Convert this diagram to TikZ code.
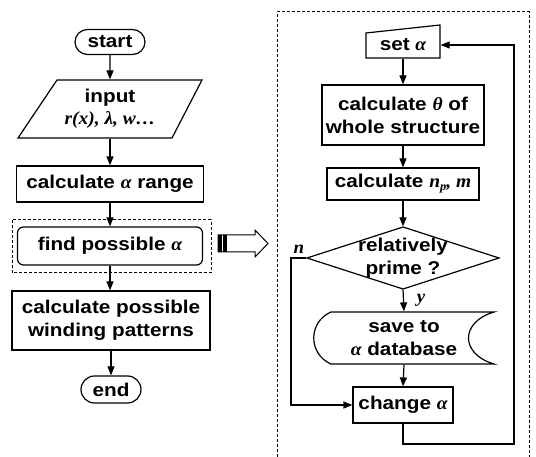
\documentclass[tikz,border=0pt]{standalone}
\usepackage{fontspec}
\setmainfont{Liberation Sans}[FakeStretch=1.12]
\newfontfamily\gkf{Liberation Serif}[FakeStretch=1.05]
\newcommand\gk[1]{{\gkf\bfseries\itshape #1}}
\usetikzlibrary{arrows.meta,shapes.misc,calc}
\tikzset{
  base/.style={font=\bfseries\fontsize{18.5}{23}\selectfont, align=center, inner sep=0pt, line width=1.2pt},
  box/.style={base, draw, rectangle},
  ghost/.style={base, rectangle},
  term/.style={base, draw, rounded rectangle},
  arr/.style={line width=1.2pt, -{Triangle[length=9pt,width=7pt]}},
  ln/.style={line width=1.2pt},
  dsh/.style={line width=1pt, dash pattern=on 3pt off 2pt},
  lab/.style={font=\gkf\bfseries\itshape\fontsize{18}{20}\selectfont, inner sep=0pt},
}
\begin{document}
\begin{tikzpicture}[x=1pt,y=-1pt]
\useasboundingbox (0,0) rectangle (536,457);
% ---------- left column ----------
\node[term, minimum width=70pt, minimum height=25pt] (start) at (110,42) {start};
\draw[ln] (57,80) -- (202,80) -- (172,138) -- (18,138) -- cycle;
\node[ghost, minimum width=184pt, minimum height=58pt] (inp) at (110,109) {input\\[-1pt]\gk{r(x), λ, w…}};
\node[box, minimum width=187pt, minimum height=36pt] (range) at (110,184) {calculate \gk{α} range};
\node[box, rounded corners=6pt, minimum width=185pt, minimum height=38pt] (find) at (110,246) {find possible \gk{α}};
\node[box, minimum width=198pt, minimum height=59pt] (wind) at (111,320.5) {calculate possible\\winding patterns};
\node[term, minimum width=60pt, minimum height=27pt] (end) at (111,389.5) {end};
\draw[dsh] (12,220) rectangle (211,273);
\draw[arr] (start) -- (inp);
\draw[arr] (inp) -- (range);
\draw[arr] (range) -- (find);
\draw[arr] (find.south) -- (find.south |- wind.north);
\draw[arr] (wind) -- (end);
% ---------- hollow arrow ----------
\draw[line width=1pt] (218,235) -- (255,235) -- (255,230) -- (268,243.5) -- (255,257) -- (255,252) -- (218,252) -- cycle;
\fill (218,235) rectangle (221.5,252);
\fill (223,235) rectangle (226.5,252);
% ---------- right column ----------
\draw[dsh] (277,457) -- (277,12) -- (529,12) -- (529,457);
\draw[ln] (366,33) -- (440,25) -- (440,58) -- (366,58) -- cycle;
\node[ghost, minimum width=74pt, minimum height=26pt] (seta) at (403,45) {set \gk{α}};
\node[box, minimum width=162pt, minimum height=60pt] (theta) at (403,115) {calculate \gk{θ} of\\whole structure};
\node[box, minimum width=152pt, minimum height=32pt] (np) at (403,184) {calculate \gk{n\raisebox{-0.35ex}{\fontsize{12}{12}\selectfont p}, m}};
\draw[ln] (307,258) -- (403,227) -- (499,258) -- (403,289) -- cycle;
\node[ghost, minimum width=192pt, minimum height=62pt] (dec) at (403,258) {relatively\\prime ?};
\draw[ln] (331,312) -- (494,312) .. controls (460,322) and (460,354) .. (494,364) -- (331,364) .. controls (308,354) and (308,322) .. (331,312) -- cycle;
\node[ghost, minimum width=180pt, minimum height=52pt] (save) at (404,338) {save to\\\gk{α} database};
\node[box, minimum width=100pt, minimum height=36pt] (chg) at (403,405) {change \gk{α}};
\coordinate (nl) at (291,405);
\coordinate (fb) at (514,444);
\node[lab] at (299,249) {n};
\node[lab] at (421,300) {y};
\draw[arr] (seta) -- (theta);
\draw[arr] (theta) -- (np);
\draw[arr] (np.south) -- (dec.north);
\draw[arr] (dec.south) -- (save.north);
\draw[arr] (save.south) -- (chg.north);
\draw[arr] (dec.west) -| (nl) -- (chg.west);
\draw[arr] (chg.south) |- (fb) |- (seta.east);
\end{tikzpicture}
\end{document}
